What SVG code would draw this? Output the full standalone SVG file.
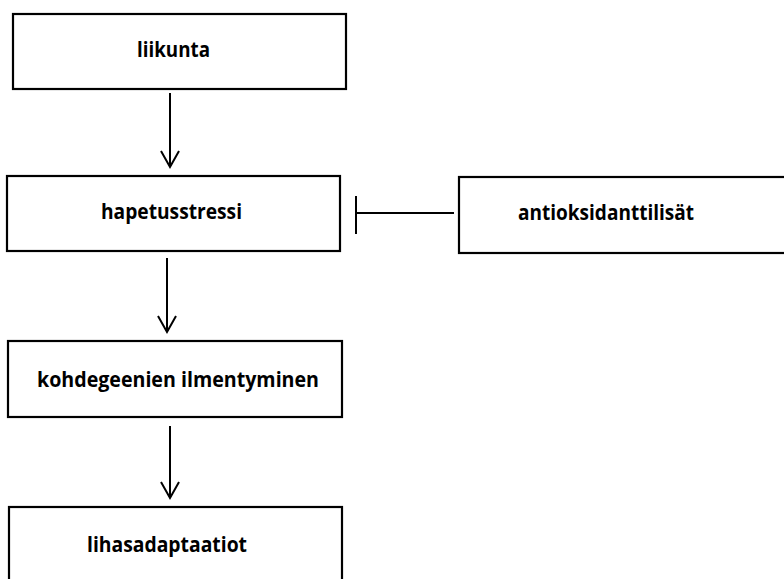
<svg xmlns="http://www.w3.org/2000/svg" width="784" height="579" viewBox="0 0 784 579">
<style>
.box{fill:#fff;stroke:#000;stroke-width:2.2}
.lbl{font-family:"Open Sans","Liberation Sans",sans-serif;font-weight:bold;font-size:21px;fill:#000}
.edge{stroke:#000;stroke-width:2;fill:none}
</style>
<rect width="784" height="579" fill="#fff"/>
<g id="liikunta"><rect class="box" x="13" y="14" width="333" height="75"/><text class="lbl" x="137" y="57" textLength="73" lengthAdjust="spacingAndGlyphs">liikunta</text></g>
<g id="hapetusstressi"><rect class="box" x="7" y="176" width="333" height="75"/><text class="lbl" x="101" y="219" textLength="141" lengthAdjust="spacingAndGlyphs">hapetusstressi</text></g>
<g id="antioksidanttilisat"><rect class="box" x="459" y="177" width="340" height="76"/><text class="lbl" x="518" y="220" textLength="176" lengthAdjust="spacingAndGlyphs">antioksidanttilisät</text></g>
<g id="kohdegeenien"><rect class="box" x="8" y="341" width="334" height="76"/><text class="lbl" x="37" y="387" textLength="282" lengthAdjust="spacingAndGlyphs">kohdegeenien ilmentyminen</text></g>
<g id="lihasadaptaatiot"><rect class="box" x="9" y="507" width="333" height="90"/><text class="lbl" x="87" y="552" textLength="160" lengthAdjust="spacingAndGlyphs">lihasadaptaatiot</text></g>
<g id="connectors">
<path class="edge" d="M170,93 V167 M161,151 L170,167 L179,151"/>
<path class="edge" d="M167,258 V332 M158,316 L167,332 L176,316"/>
<path class="edge" d="M170,426 V498 M161,482 L170,498 L179,482"/>
<path class="edge" d="M454,213 H356 M356,196 V234"/>
</g>
</svg>
